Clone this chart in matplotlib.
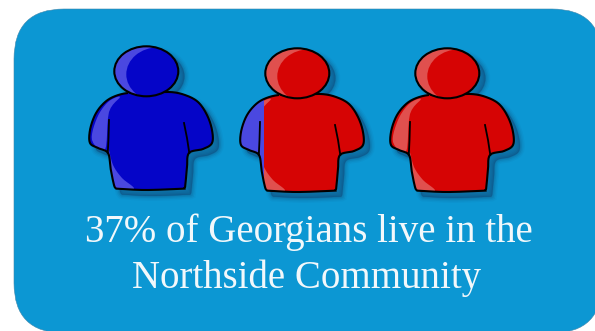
import numpy as np
import matplotlib
matplotlib.use("Agg")
import matplotlib.pyplot as plt
from matplotlib.patches import FancyBboxPatch, Ellipse, PathPatch
from matplotlib.path import Path

# share of the population shown by the pictogram
share_pct = 37
people = 3
caption = ["37% of Georgians live in the", "Northside Community"]

person_dx = [0, 151, 301]
person_dy = [0, 2, 2]

BLUE = "#0505c8"
BLUE_LIGHT = "#4a48e0"
RED = "#d60404"
RED_LIGHT = "#e0504e"
PANEL = "#0c97d3"

# body outline in pixels, closed under the head
BODY = np.array([
    (128, 93), (113, 97), (103, 104), (95, 115), (90, 130), (90, 143), (98, 148),
    (108, 153), (110.5, 168), (113.5, 183), (115.5, 188), (120, 188.8), (146, 190),
    (180, 188.8), (184.5, 188), (185.5, 183), (187, 168), (189, 153), (203, 149),
    (212, 143), (212, 130), (207, 115), (198, 102), (185, 95), (170, 92), (150, 93),
], dtype=float)


def smooth(pts, n=14):
    # closed Catmull-Rom through the outline points
    out = []
    m = len(pts)
    for i in range(m):
        p0, p1, p2, p3 = pts[i - 1], pts[i], pts[(i + 1) % m], pts[(i + 2) % m]
        for t in np.linspace(0, 1, n, endpoint=False):
            out.append(0.5 * (2 * p1 + (p2 - p0) * t + (2 * p0 - 5 * p1 + 4 * p2 - p3) * t ** 2
                              + (3 * p1 - p0 - 3 * p2 + p3) * t ** 3))
    return np.array(out)


body_xy = smooth(BODY)


def split_x(frac):
    # x position where the given fraction of the body area lies to the left
    xs = np.linspace(body_xy[:, 0].min(), body_xy[:, 0].max(), 500)
    path = Path(body_xy)
    ys = np.arange(body_xy[:, 1].min(), body_xy[:, 1].max(), 0.5)
    gx, gy = np.meshgrid(xs, ys)
    inside = path.contains_points(np.c_[gx.ravel(), gy.ravel()]).reshape(gx.shape)
    cum = inside.sum(axis=0).cumsum() / inside.sum()
    return xs[np.searchsorted(cum, frac)]


def draw_person(ax, dx, dy, fill):
    # fill = part of this person counted in the share, 0..1
    body = body_xy + (dx, dy)
    hx, hy = 146.3 + dx, 71.3 + dy
    main = BLUE if fill >= 1 else RED
    light = BLUE_LIGHT if fill >= 1 else RED_LIGHT

    # soft drop shadow
    for lw, a in [(7, 0.05), (5, 0.08), (3, 0.12), (1, 0.2)]:
        ax.add_patch(PathPatch(Path(body + (6, 6)), fc="#123a66", ec="#123a66", lw=lw, alpha=a, zorder=2))
        ax.add_patch(Ellipse((hx + 6, hy + 5), 64, 50, fc="#123a66", ec="#123a66", lw=lw, alpha=a, zorder=2))

    body_patch = PathPatch(Path(body), fc=main, ec="none", zorder=3)
    ax.add_patch(body_patch)

    # sleeve and torso highlights
    hi1 = np.array([(92, 140), (97, 118), (108, 102), (120, 97), (109, 112), (105, 150)]) + (dx, dy)
    hi2 = np.array([(108, 148), (113, 165), (122, 178), (134, 189), (113, 190)]) + (dx, dy)
    for hi in (hi1, hi2):
        p = PathPatch(Path(smooth(hi, 6)), fc=light, ec="none", zorder=4)
        ax.add_patch(p)
        p.set_clip_path(body_patch)

    if 0 < fill < 1:
        # part of the figure left of the split stays blue
        x = split_x(fill) + dx
        part = ax.fill_between([x - 60, x], 0, 331, color=BLUE_LIGHT, lw=0, zorder=4.5)
        part.set_clip_path(body_patch)

    ax.add_patch(PathPatch(Path(body), fc="none", ec="black", lw=1.5, zorder=5))

    # arm creases
    ax.plot(np.array([109, 108.5, 107.8]) + dx, np.array([120, 138, 153]) + dy, color="black", lw=1.3, zorder=6)
    ax.plot(np.array([184, 187, 189.3]) + dx, np.array([123, 138, 153]) + dy, color="black", lw=1.3, zorder=6)

    # head with crescent highlight
    head = Ellipse((hx, hy), 64, 50, fc=light, ec="none", zorder=7)
    ax.add_patch(head)
    inner = Ellipse((hx + 12, hy + 3), 64, 54, fc=main, ec="none", zorder=8)
    ax.add_patch(inner)
    inner.set_clip_path(head)
    ax.add_patch(Ellipse((hx, hy), 64, 50, fc="none", ec="black", lw=1.5, zorder=9))


fig = plt.figure(figsize=(5.95, 3.31), dpi=100)
ax = fig.add_axes([0, 0, 1, 1])
ax.set_xlim(0, 595)
ax.set_ylim(331, 0)
ax.axis("off")

ax.add_patch(FancyBboxPatch((64, 59), 488, 224, boxstyle="round,pad=50,rounding_size=50",
                            fc=PANEL, ec="#3f86ab", lw=0.4, zorder=1))

counted = share_pct / 100 * people
for i in range(people):
    draw_person(ax, person_dx[i], person_dy[i], min(max(counted - i, 0), 1))

ax.text(308.5, 232, caption[0], ha="center", va="center", color="#f2f8fb", fontsize=28,
        family="Liberation Serif", zorder=10)
ax.text(307, 278, caption[1], ha="center", va="center", color="#f2f8fb", fontsize=28,
        family="Liberation Serif", zorder=10)

fig.savefig("out.png", dpi=100)
